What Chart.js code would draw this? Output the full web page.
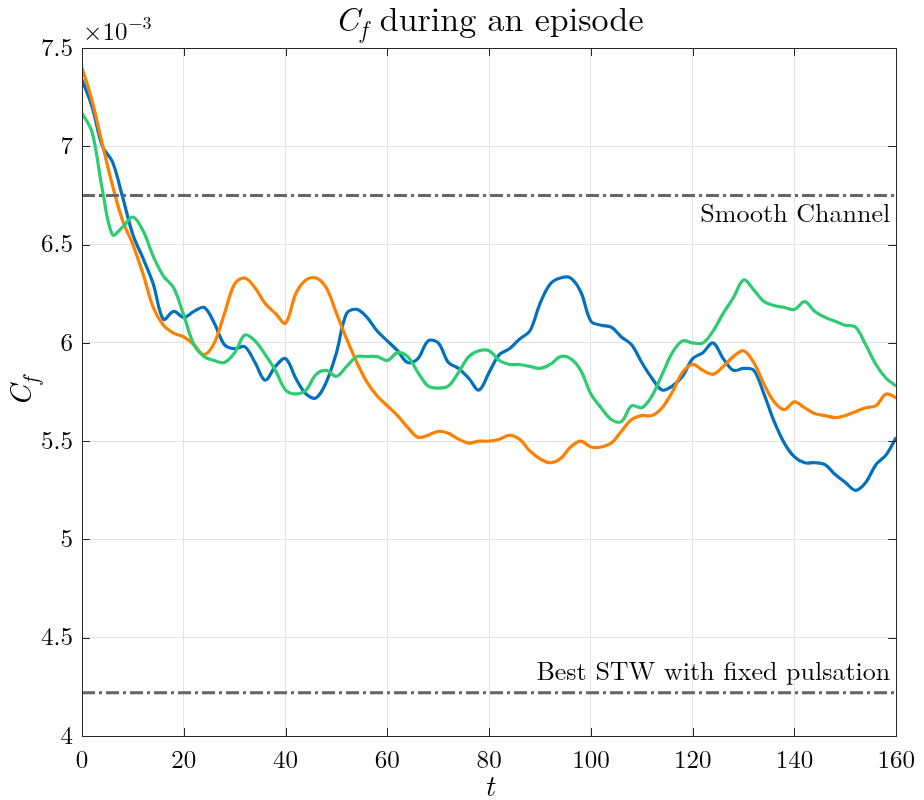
<!DOCTYPE html>
<html>
<head>
<meta charset="utf-8">
<title>Cf during an episode</title>
<script src="https://cdn.jsdelivr.net/npm/chart.js@4.4.1/dist/chart.umd.min.js"></script>
<style>
	html, body { margin: 0; padding: 0; background: #fff; }
	#wrap { width: 924px; height: 800px; }
</style>
</head>
<body>
<div id="wrap"><canvas id="cfChart" width="924" height="800"></canvas></div>
<script>
/* time steps (t) */
var tSteps = [0, 2, 4, 6, 8, 10, 12, 14, 16, 18, 20, 22, 24, 26, 28, 30, 32, 34, 36, 38,
	40, 42, 44, 46, 48, 50, 52, 54, 56, 58, 60, 62, 64, 66, 68, 70, 72, 74, 76, 78,
	80, 82, 84, 86, 88, 90, 92, 94, 96, 98, 100, 102, 104, 106, 108, 110, 112, 114, 116, 118,
	120, 122, 124, 126, 128, 130, 132, 134, 136, 138, 140, 142, 144, 146, 148, 150, 152, 154, 156, 158, 160];

/* Cf values, x10^-3 */
var cfBlue = [7.34, 7.20, 7.00, 6.92, 6.74, 6.55, 6.43, 6.30, 6.12, 6.16, 6.13, 6.16, 6.18, 6.10, 5.99, 5.97, 5.98, 5.90, 5.81, 5.88,
	5.92, 5.82, 5.74, 5.72, 5.80, 5.95, 6.15, 6.17, 6.13, 6.06, 6.01, 5.96, 5.90, 5.92, 6.01, 6.00, 5.90, 5.87, 5.82, 5.76,
	5.85, 5.94, 5.97, 6.02, 6.06, 6.20, 6.30, 6.33, 6.33, 6.26, 6.11, 6.09, 6.08, 6.03, 5.99, 5.90, 5.82, 5.76, 5.78, 5.83,
	5.92, 5.95, 6.00, 5.92, 5.86, 5.87, 5.86, 5.74, 5.60, 5.49, 5.42, 5.39, 5.39, 5.38, 5.33, 5.29, 5.25, 5.29, 5.38, 5.43, 5.52];
var cfOrange = [7.40, 7.23, 7.01, 6.80, 6.62, 6.50, 6.35, 6.18, 6.09, 6.05, 6.03, 5.99, 5.94, 6.00, 6.15, 6.30, 6.33, 6.28, 6.20, 6.15,
	6.10, 6.25, 6.32, 6.33, 6.28, 6.15, 6.02, 5.90, 5.80, 5.73, 5.68, 5.63, 5.57, 5.52, 5.53, 5.55, 5.54, 5.51, 5.49, 5.50,
	5.50, 5.51, 5.53, 5.51, 5.45, 5.41, 5.39, 5.41, 5.47, 5.50, 5.47, 5.47, 5.49, 5.55, 5.61, 5.63, 5.63, 5.67, 5.75, 5.85,
	5.89, 5.86, 5.84, 5.88, 5.93, 5.96, 5.90, 5.79, 5.70, 5.66, 5.70, 5.67, 5.64, 5.63, 5.62, 5.63, 5.65, 5.67, 5.68, 5.74, 5.72];
var cfGreen = [7.17, 7.07, 6.78, 6.55, 6.59, 6.64, 6.57, 6.44, 6.34, 6.28, 6.14, 5.99, 5.93, 5.91, 5.90, 5.95, 6.04, 6.01, 5.94, 5.86,
	5.76, 5.74, 5.76, 5.84, 5.86, 5.83, 5.88, 5.93, 5.93, 5.93, 5.91, 5.95, 5.93, 5.85, 5.78, 5.77, 5.78, 5.85, 5.93, 5.96,
	5.96, 5.91, 5.89, 5.89, 5.88, 5.87, 5.89, 5.93, 5.92, 5.86, 5.74, 5.67, 5.61, 5.60, 5.68, 5.67, 5.73, 5.84, 5.95, 6.01,
	6.00, 6.00, 6.06, 6.15, 6.23, 6.32, 6.27, 6.21, 6.19, 6.18, 6.17, 6.21, 6.16, 6.13, 6.11, 6.09, 6.08, 5.99, 5.89, 5.82, 5.78];

/* reference levels */
var refSpan = [0, 160];
var smoothChannel = 6.75;
var bestSTW = 4.22;

/* axis ticks */
var xTicks = [0, 20, 40, 60, 80, 100, 120, 140, 160];
var yTicks = [4, 4.5, 5, 5.5, 6, 6.5, 7, 7.5];

var SERIF = "'Latin Modern Roman', 'Liberation Serif', 'DejaVu Serif', serif";

function toPoints(xs, ys) {
	return xs.map(function(x, i) { return { x: x, y: ys[i] }; });
}

/* box, inward ticks and the LaTeX-ish texts */
var decorations = {
	id: "decorations",
	afterDraw: function(chart) {
		var ctx = chart.ctx;
		var a = chart.chartArea;
		var xs = chart.scales.x, ys = chart.scales.y;
		ctx.save();

		// inward ticks
		ctx.strokeStyle = "#262626";
		ctx.lineWidth = 1;
		ctx.beginPath();
		xTicks.forEach(function(v) {
			var px = Math.round(xs.getPixelForValue(v)) + 0.5;
			ctx.moveTo(px, a.bottom); ctx.lineTo(px, a.bottom - 8);
			ctx.moveTo(px, a.top); ctx.lineTo(px, a.top + 8);
		});
		yTicks.forEach(function(v) {
			var py = Math.round(ys.getPixelForValue(v)) + 0.5;
			ctx.moveTo(a.left, py); ctx.lineTo(a.left + 8, py);
			ctx.moveTo(a.right, py); ctx.lineTo(a.right - 8, py);
		});
		ctx.stroke();
		ctx.strokeRect(Math.round(a.left) + 0.5, Math.round(a.top) + 0.5,
			Math.round(a.right - a.left), Math.round(a.bottom - a.top));

		ctx.fillStyle = "#000";
		ctx.textBaseline = "alphabetic";

		// title
		var cx = (a.left + a.right) / 2;
		ctx.font = "italic 34px " + SERIF;
		var wC = ctx.measureText("C").width;
		ctx.font = "italic 24px " + SERIF;
		var wf = ctx.measureText("f").width;
		ctx.font = "34px " + SERIF;
		var rest = " during an episode";
		var wr = ctx.measureText(rest).width;
		var x0 = cx - (wC + wf + 2 + wr) / 2;
		ctx.textAlign = "left";
		ctx.font = "italic 34px " + SERIF;
		ctx.fillText("C", x0, 31);
		ctx.font = "italic 24px " + SERIF;
		ctx.fillText("f", x0 + wC + 1, 38);
		ctx.font = "34px " + SERIF;
		ctx.fillText(rest, x0 + wC + wf + 2, 31);

		// x10^-3
		ctx.font = "25px " + SERIF;
		ctx.fillText("\u00d710", a.left + 1, 40);
		var w10 = ctx.measureText("\u00d710").width;
		ctx.font = "18px " + SERIF;
		ctx.fillText("\u22123", a.left + 2 + w10, 29);

		// y label
		ctx.save();
		ctx.translate(31, (a.top + a.bottom) / 2);
		ctx.rotate(-Math.PI / 2);
		ctx.font = "italic 30px " + SERIF;
		var wCy = ctx.measureText("C").width;
		ctx.font = "italic 22px " + SERIF;
		var wfy = ctx.measureText("f").width;
		var y0 = -(wCy + wfy + 1) / 2;
		ctx.font = "italic 30px " + SERIF;
		ctx.fillText("C", y0, 0);
		ctx.font = "italic 22px " + SERIF;
		ctx.fillText("f", y0 + wCy + 1, 7);
		ctx.restore();

		// x label
		ctx.textAlign = "center";
		ctx.font = "italic 30px " + SERIF;
		ctx.fillText("t", cx, 796);

		// reference labels
		ctx.textAlign = "right";
		ctx.font = "26px " + SERIF;
		ctx.fillText("Smooth Channel", a.right - 6, ys.getPixelForValue(smoothChannel) + 27);
		ctx.fillText("Best STW with fixed pulsation", a.right - 6, ys.getPixelForValue(bestSTW) - 13);

		ctx.restore();
	}
};

new Chart(document.getElementById("cfChart"), {
	type: "line",
	data: {
		datasets: [{
			data: toPoints(refSpan, [smoothChannel, smoothChannel]),
			borderColor: "#666666",
			borderWidth: 3,
			borderDash: [13, 4, 3, 4],
			pointRadius: 0
		}, {
			data: toPoints(refSpan, [bestSTW, bestSTW]),
			borderColor: "#666666",
			borderWidth: 3,
			borderDash: [13, 4, 3, 4],
			pointRadius: 0
		}, {
			data: toPoints(tSteps, cfGreen),
			borderColor: "#2ECC71",
			borderWidth: 3.2,
			pointRadius: 0,
			tension: 0.35
		}, {
			data: toPoints(tSteps, cfOrange),
			borderColor: "#FF8000",
			borderWidth: 3.2,
			pointRadius: 0,
			tension: 0.35
		}, {
			data: toPoints(tSteps, cfBlue),
			borderColor: "#0072BD",
			borderWidth: 3.2,
			pointRadius: 0,
			tension: 0.35
		}]
	},
	options: {
		responsive: false,
		animation: false,
		layout: { padding: { left: 0, top: 48, right: 26, bottom: 0 } },
		plugins: {
			legend: { display: false },
			tooltip: { enabled: false },
			title: { display: false }
		},
		scales: {
			x: {
				type: "linear",
				min: 0,
				max: 160,
				afterBuildTicks: function(scale) {
					scale.ticks = xTicks.map(function(v) { return { value: v }; });
				},
				afterFit: function(scale) { scale.height = 64; },
				grid: { color: "#e3e3e3", drawTicks: false },
				border: { display: false },
				ticks: {
					padding: 9,
					color: "#000",
					maxRotation: 0,
					font: { family: SERIF, size: 25 }
				}
			},
			y: {
				min: 4,
				max: 7.5,
				afterBuildTicks: function(scale) {
					scale.ticks = yTicks.map(function(v) { return { value: v }; });
				},
				afterFit: function(scale) { scale.width = 82; },
				grid: { color: "#e3e3e3", drawTicks: false },
				border: { display: false },
				ticks: {
					padding: 9,
					color: "#000",
					font: { family: SERIF, size: 25 },
					callback: function(v) { return Number.isInteger(v) ? String(v) : v.toFixed(1); }
				}
			}
		}
	},
	plugins: [decorations]
});
</script>
</body>
</html>
